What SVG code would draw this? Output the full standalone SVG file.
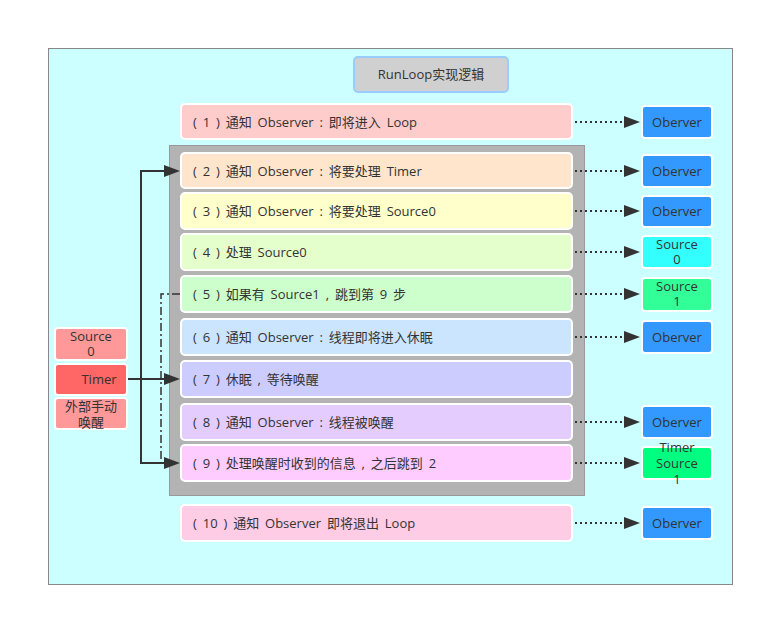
<svg xmlns="http://www.w3.org/2000/svg" width="765" height="617" viewBox="0 0 765 617">
<defs>
<style>
text{font-family:"Open Sans","Noto Sans CJK SC",sans-serif;font-size:13px;fill:#333;}
.t{word-spacing:2.5px;}
.row{stroke:#fff;stroke-width:2;}
.rb{stroke:#fff;stroke-width:2;}
.c{text-anchor:middle;}
.dot{fill:none;stroke:#333;stroke-width:2;stroke-dasharray:2 3;}
.ln{fill:none;stroke:#333;stroke-width:2;}
.dd{fill:none;stroke:#333;stroke-width:1.5;stroke-dasharray:8 3 2 3;}
.ah{fill:#333;}
</style>
</defs>
<rect width="765" height="617" fill="#fff"/>
<rect id="frame" x="48.5" y="48.5" width="684" height="536" fill="#ccffff" stroke="#888"/>
<rect id="loopbox" x="169.5" y="145.5" width="415" height="350" fill="#b3b3b3" stroke="#999"/>
<g id="title"><rect x="354" y="57" width="154" height="35" rx="4" fill="#d0d0d0" stroke="#99ccff" stroke-width="2"/><text class="c" x="431" y="79">RunLoop实现逻辑</text></g>

<g id="row1"><rect class="row" x="181" y="104" width="391" height="35" rx="4" fill="#ffcccc"/><text class="t" x="193" y="127">( 1 ) 通知 Observer : 即将进入 Loop</text></g>
<g id="row2"><rect class="row" x="181" y="153" width="391" height="35" rx="4" fill="#ffe5cc"/><text class="t" x="193" y="176">( 2 ) 通知 Observer : 将要处理 Timer</text></g>
<g id="row3"><rect class="row" x="181" y="193" width="391" height="36" rx="4" fill="#ffffcc"/><text class="t" x="193" y="216">( 3 ) 通知 Observer : 将要处理 Source0</text></g>
<g id="row4"><rect class="row" x="181" y="234" width="391" height="36" rx="4" fill="#e5ffcc"/><text class="t" x="193" y="257">( 4 ) 处理 Source0</text></g>
<g id="row5"><rect class="row" x="181" y="276" width="391" height="36" rx="4" fill="#ccffcc"/><text class="t" x="193" y="299">( 5 ) 如果有 Source1 , 跳到第 9 步</text></g>
<g id="row6"><rect class="row" x="181" y="319" width="391" height="36" rx="4" fill="#cce5ff"/><text class="t" x="193" y="342">( 6 ) 通知 Observer : 线程即将进入休眠</text></g>
<g id="row7"><rect class="row" x="181" y="361" width="391" height="36" rx="4" fill="#ccccff"/><text class="t" x="193" y="384">( 7 ) 休眠 , 等待唤醒</text></g>
<g id="row8"><rect class="row" x="181" y="404" width="391" height="36" rx="4" fill="#e5ccff"/><text class="t" x="193" y="427">( 8 ) 通知 Observer : 线程被唤醒</text></g>
<g id="row9"><rect class="row" x="181" y="445" width="391" height="36" rx="4" fill="#ffccff"/><text class="t" x="193" y="468">( 9 ) 处理唤醒时收到的信息 , 之后跳到 2</text></g>
<g id="row10"><rect class="row" x="181" y="505" width="391" height="36" rx="4" fill="#ffcce5"/><text class="t" x="193" y="528">( 10 ) 通知 Observer 即将退出 Loop</text></g>

<g id="obs1"><rect class="rb" x="642" y="106" width="70" height="32" rx="3" fill="#3399ff"/><text class="c" x="677" y="127">Oberver</text></g>
<g id="obs2"><rect class="rb" x="642" y="155" width="70" height="32" rx="3" fill="#3399ff"/><text class="c" x="677" y="176">Oberver</text></g>
<g id="obs3"><rect class="rb" x="642" y="196" width="70" height="31" rx="3" fill="#3399ff"/><text class="c" x="677" y="216">Oberver</text></g>
<g id="src0"><rect class="rb" x="642" y="236" width="70" height="32" rx="3" fill="#33ffff"/><text class="c" x="677" y="249">Source<tspan x="677" dy="15">0</tspan></text></g>
<g id="src1"><rect class="rb" x="642" y="278" width="70" height="33" rx="3" fill="#33ff99"/><text class="c" x="677" y="291">Source<tspan x="677" dy="15">1</tspan></text></g>
<g id="obs6"><rect class="rb" x="642" y="321" width="70" height="32" rx="3" fill="#3399ff"/><text class="c" x="677" y="342">Oberver</text></g>
<g id="obs8"><rect class="rb" x="642" y="406" width="70" height="32" rx="3" fill="#3399ff"/><text class="c" x="677" y="427">Oberver</text></g>
<g id="tsrc1"><rect class="rb" x="642" y="447" width="70" height="32" rx="3" fill="#00ff80"/><text class="c" x="677" y="452">Timer<tspan x="677" dy="16">Source</tspan><tspan x="677" dy="16">1</tspan></text></g>
<g id="obs10"><rect class="rb" x="642" y="507" width="70" height="32" rx="3" fill="#3399ff"/><text class="c" x="677" y="528">Oberver</text></g>

<g id="lsrc0"><rect class="rb" x="55" y="328" width="72" height="32" rx="3" fill="#ff9999"/><text class="c" x="91" y="341">Source<tspan x="91" dy="15">0</tspan></text></g>
<g id="ltimer"><rect class="rb" x="55" y="364" width="72" height="31" rx="3" fill="#ff6666"/><text class="c" x="99" y="384">Timer</text></g>
<g id="lext"><rect class="rb" x="55" y="398" width="72" height="31" rx="3" fill="#ff9999"/><text class="c" x="91" y="411">外部手动<tspan x="91" dy="16">唤醒</tspan></text></g>

<g id="connectors">
<path class="dot" d="M575,122 H626"/><path class="ah" d="M624,116 L640,122 L624,128 z"/>
<path class="dot" d="M575,171 H626"/><path class="ah" d="M624,165 L640,171 L624,177 z"/>
<path class="dot" d="M575,211 H626"/><path class="ah" d="M624,205 L640,211 L624,217 z"/>
<path class="dot" d="M575,252 H626"/><path class="ah" d="M624,246 L640,252 L624,258 z"/>
<path class="dot" d="M575,294 H626"/><path class="ah" d="M624,288 L640,294 L624,300 z"/>
<path class="dot" d="M575,337 H626"/><path class="ah" d="M624,331 L640,337 L624,343 z"/>
<path class="dot" d="M575,422 H626"/><path class="ah" d="M624,416 L640,422 L624,428 z"/>
<path class="dot" d="M575,463 H626"/><path class="ah" d="M624,457 L640,463 L624,469 z"/>
<path class="dot" d="M575,523 H626"/><path class="ah" d="M624,517 L640,523 L624,529 z"/>
<path class="dd" d="M180,294 H161 V463 H166"/>
<path class="ln" d="M166,463 H141 V171 H166"/>
<path class="ah" d="M164,165 L180,171 L164,177 z"/>
<path class="ah" d="M164,457 L180,463 L164,469 z"/>
<path class="ln" d="M128,379 H166"/>
<path class="ah" d="M164,373 L180,379 L164,385 z"/>
</g>
</svg>
